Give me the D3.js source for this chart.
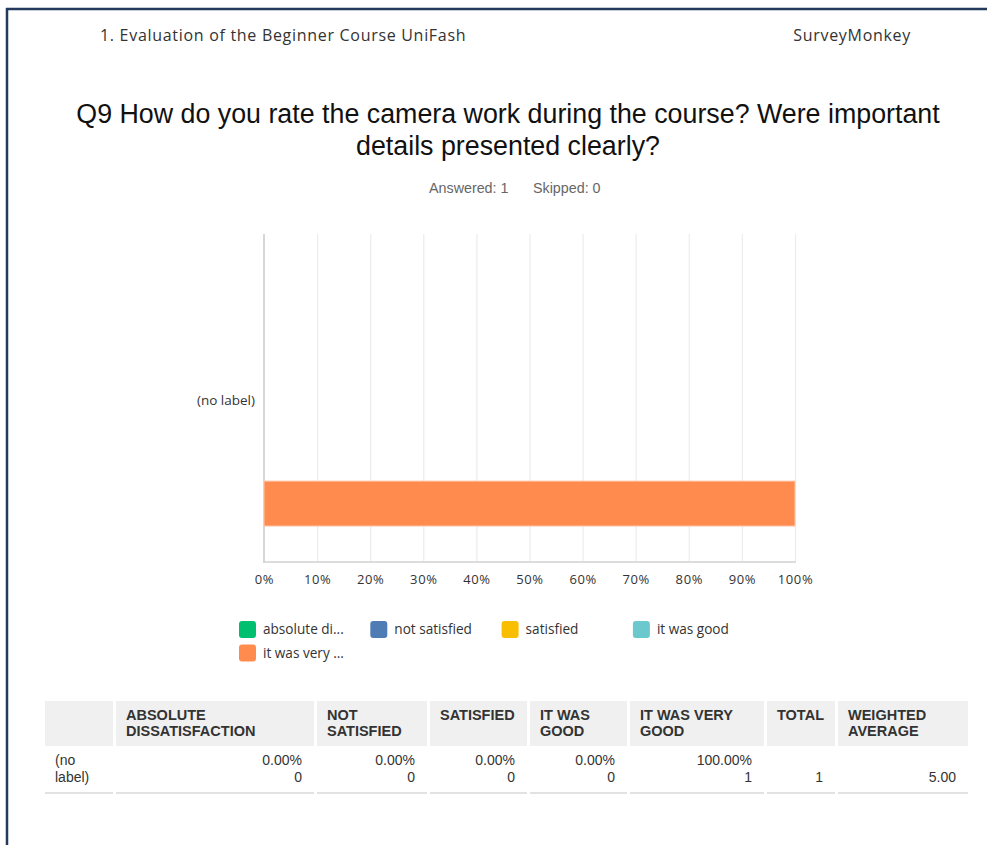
<!DOCTYPE html>
<html>
<head>
<meta charset="utf-8">
<script src="https://cdn.jsdelivr.net/npm/d3@7"></script>
<style>
  body { margin: 0; background: #fff; }
  svg { display: block; }
</style>
</head>
<body>
<svg id="chart" width="987" height="845"></svg>
<script>
// data ======================================================================
var surveyName = "1. Evaluation of the Beginner Course UniFash";
var brand = "SurveyMonkey";
var titleLines = ["Q9 How do you rate the camera work during the course? Were important",
                  "details presented clearly?"];
var answered = 1;
var skipped = 0;

var categories = ["(no label)"];
var seriesNames = ["absolute dissatisfaction", "not satisfied", "satisfied", "it was good", "it was very good"];
var legendLabels = ["absolute di...", "not satisfied", "satisfied", "it was good", "it was very ..."];
var seriesColors = ["#00bf6f", "#507cb6", "#f9be00", "#6bc8cd", "#ff8b4f"];
var percents = [0, 0, 0, 0, 100];
var counts = [0, 0, 0, 0, 1];
var xTicks = [0, 10, 20, 30, 40, 50, 60, 70, 80, 90, 100];

var tableHeaders = [["ABSOLUTE", "DISSATISFACTION"], ["NOT", "SATISFIED"], ["SATISFIED"],
                    ["IT WAS", "GOOD"], ["IT WAS VERY", "GOOD"], ["TOTAL"], ["WEIGHTED", "AVERAGE"]];
var total = 1;
var weightedAvg = 5.00;

// setup =====================================================================
var svg = d3.select("#chart");
var textColor = "#333";
var fontUI = "'Open Sans', 'DejaVu Sans', sans-serif";
var fontArial = "'Liberation Sans', Arial, sans-serif";

var plot = { left: 264, right: 795, top: 234, bottom: 562 };

// page frame
svg.append("line").attr("x1", 6).attr("x2", 987).attr("y1", 9).attr("y2", 9)
  .attr("stroke", "#233a5c").attr("stroke-width", 2.5);
svg.append("line").attr("x1", 7).attr("x2", 7).attr("y1", 8).attr("y2", 845)
  .attr("stroke", "#233a5c").attr("stroke-width", 2.5);

// header
svg.append("text").attr("x", 100).attr("y", 41)
  .attr("font-family", fontUI).attr("font-size", 16).attr("letter-spacing", 0.7)
  .attr("fill", textColor)
  .text(surveyName);
svg.append("text").attr("x", 911).attr("y", 41).attr("text-anchor", "end")
  .attr("font-family", fontUI).attr("font-size", 16).attr("letter-spacing", 0.7)
  .attr("fill", textColor)
  .text(brand);

// title
svg.append("g").selectAll("text")
  .data(titleLines)
  .enter().append("text")
  .attr("x", 508)
  .attr("y", function(d, i) { return 123 + i * 32; })
  .attr("text-anchor", "middle")
  .attr("font-family", fontArial).attr("font-size", 26.8).attr("fill", "#111")
  .text(function(d) { return d; });

svg.append("text").attr("x", 429).attr("y", 193)
  .attr("font-family", fontArial).attr("font-size", 14.3).attr("fill", "#666")
  .text("Answered: " + answered);
svg.append("text").attr("x", 533).attr("y", 193)
  .attr("font-family", fontArial).attr("font-size", 14.3).attr("fill", "#666")
  .text("Skipped: " + skipped);

// scales ====================================================================
var xScale = d3.scaleLinear()
  .domain([0, 100])
  .range([plot.left, plot.right]);

var yScale = d3.scaleBand()
  .domain(categories)
  .range([plot.top, plot.bottom]);

var seriesScale = d3.scaleBand()
  .domain(seriesNames)
  .range([0, yScale.bandwidth()])
  .paddingInner(0.25)
  .paddingOuter(0.36)
  .align(0.167);

// grid ======================================================================
var xAxis = d3.axisBottom(xScale)
  .tickValues(xTicks)
  .tickSize(-(plot.bottom - plot.top))
  .tickPadding(13)
  .tickFormat(function(d) { return d + "%"; });

var gx = svg.append("g")
  .attr("class", "x-axis")
  .attr("transform", "translate(0," + plot.bottom + ")")
  .call(xAxis);
gx.select(".domain").remove();
gx.selectAll(".tick line").attr("stroke", "#ececec").attr("stroke-width", 1.2)
  .filter(function(d) { return d === 0; }).remove();
gx.selectAll(".tick text")
  .attr("font-family", fontUI).attr("font-size", 13).attr("letter-spacing", 0.6)
  .attr("fill", textColor);

// axis lines
svg.append("line").attr("x1", plot.left).attr("x2", plot.right + 1)
  .attr("y1", plot.bottom).attr("y2", plot.bottom)
  .attr("stroke", "#dcdcdc").attr("stroke-width", 2);
svg.append("line").attr("x1", plot.left).attr("x2", plot.left)
  .attr("y1", plot.top).attr("y2", plot.bottom + 1)
  .attr("stroke", "#d6d6d6").attr("stroke-width", 2);

// category labels
svg.append("g").selectAll("text")
  .data(categories)
  .enter().append("text")
  .attr("x", plot.left - 9)
  .attr("y", function(d) { return yScale(d) + yScale.bandwidth() / 2 + 7; })
  .attr("text-anchor", "end")
  .attr("font-family", fontUI).attr("font-size", 13.5).attr("fill", textColor)
  .text(function(d) { return d; });

// bars ======================================================================
var barData = seriesNames.map(function(s, i) {
  return { cat: categories[0], series: s, value: percents[i], color: seriesColors[i] };
});

svg.append("g").selectAll("rect")
  .data(barData.filter(function(d) { return d.value > 0; }))
  .enter().append("rect")
  .attr("x", xScale(0))
  .attr("y", function(d) { return yScale(d.cat) + seriesScale(d.series); })
  .attr("width", function(d) { return xScale(d.value) - xScale(0); })
  .attr("height", seriesScale.bandwidth())
  .attr("fill", function(d) { return d.color; })
  .attr("stroke", "#ffc9ad")
  .attr("stroke-width", 1);

// legend ====================================================================
var legend = svg.append("g").attr("transform", "translate(239,621)");
var legendItem = legend.selectAll("g")
  .data(legendLabels)
  .enter().append("g")
  .attr("transform", function(d, i) {
    return "translate(" + ((i % 4) * 131.3) + "," + (Math.floor(i / 4) * 23.5) + ")";
  });
legendItem.append("rect")
  .attr("width", 17).attr("height", 17).attr("rx", 3)
  .attr("fill", function(d, i) { return seriesColors[i]; });
legendItem.append("text")
  .attr("x", 24).attr("y", 13)
  .attr("font-family", fontUI).attr("font-size", 13.6).attr("fill", textColor)
  .text(function(d) { return d; });

// table =====================================================================
var colEdges = [[45, 113], [116, 314], [317, 427], [430, 527], [530, 627], [630, 764], [767, 835], [838, 968]];
var headerTop = 701, headerBottom = 746;

var table = svg.append("g").attr("class", "table");

table.selectAll("rect.head")
  .data(colEdges)
  .enter().append("rect")
  .attr("class", "head")
  .attr("x", function(d) { return d[0]; })
  .attr("y", headerTop)
  .attr("width", function(d) { return d[1] - d[0]; })
  .attr("height", headerBottom - headerTop)
  .attr("fill", "#f0f0f0");

table.selectAll("line.rowline")
  .data(colEdges)
  .enter().append("line")
  .attr("class", "rowline")
  .attr("x1", function(d) { return d[0]; })
  .attr("x2", function(d) { return d[1]; })
  .attr("y1", 793).attr("y2", 793)
  .attr("stroke", "#e2e2e2").attr("stroke-width", 2);

var headerText = table.selectAll("text.htext")
  .data(tableHeaders)
  .enter().append("text")
  .attr("class", "htext")
  .attr("font-family", fontArial).attr("font-size", 14.5)
  .attr("font-weight", "bold").attr("fill", "#333");
headerText.selectAll("tspan")
  .data(function(d, i) { return d.map(function(line) { return { line: line, col: i + 1 }; }); })
  .enter().append("tspan")
  .attr("x", function(d) { return colEdges[d.col][0] + 10; })
  .attr("y", function(d, j) { return 720 + j * 16; })
  .text(function(d) { return d.line; });

// row label
table.append("text")
  .attr("font-family", fontArial).attr("font-size", 14).attr("fill", textColor)
  .selectAll("tspan")
  .data(["(no", "label)"])
  .enter().append("tspan")
  .attr("x", 55)
  .attr("y", function(d, j) { return 765 + j * 17; })
  .text(function(d) { return d; });

var fmtPct = d3.format(".2f");
var cellData = percents.map(function(p, i) {
  return { col: i + 1, lines: [fmtPct(p) + "%", String(counts[i])] };
});
cellData.push({ col: 6, lines: ["", String(total)] });
cellData.push({ col: 7, lines: ["", fmtPct(weightedAvg)] });

table.selectAll("text.cell")
  .data(cellData)
  .enter().append("text")
  .attr("class", "cell")
  .attr("text-anchor", "end")
  .attr("font-family", fontArial).attr("font-size", 14).attr("fill", textColor)
  .selectAll("tspan")
  .data(function(d) { return d.lines.map(function(l) { return { text: l, col: d.col }; }); })
  .enter().append("tspan")
  .attr("x", function(d) { return colEdges[d.col][1] - 12; })
  .attr("y", function(d, j) { return 765 + j * 17; })
  .text(function(d) { return d.text; });
</script>
</body>
</html>
